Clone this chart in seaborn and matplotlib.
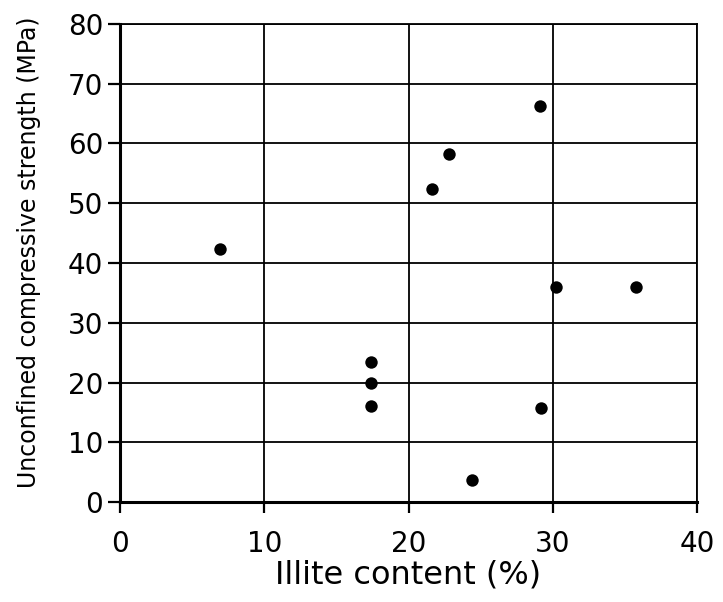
import matplotlib
matplotlib.use("Agg")
import matplotlib.pyplot as plt
import seaborn as sns
import pandas as pd

illite = [6.9, 17.4, 17.4, 17.4, 21.6, 22.8, 24.4, 29.1, 29.2, 30.2, 35.8]
ucs = [42.4, 23.5, 20.0, 16.1, 52.4, 58.3, 3.6, 66.2, 15.8, 36.0, 36.0]
xticks = [0, 10, 20, 30, 40]
yticks = [0, 10, 20, 30, 40, 50, 60, 70, 80]

df = pd.DataFrame({"illite": illite, "ucs": ucs})

sns.set_style("white")
plt.rcParams["font.family"] = ["DejaVu Sans"]
plt.rcParams["text.color"] = "black"
plt.rcParams["axes.labelcolor"] = "black"
plt.rcParams["xtick.color"] = "black"
plt.rcParams["ytick.color"] = "black"

fig = plt.figure(figsize=(7.23, 6.02), dpi=100)
ax = fig.add_axes([120/723, 1-502/602, 577/723, 478/602])

sns.scatterplot(data=df, x="illite", y="ucs", ax=ax, color="black", s=80,
                edgecolor="black", linewidth=0, zorder=3)

ax.set_xlim(0, 40)
ax.set_ylim(0, 80)
ax.set_xticks(xticks)
ax.set_yticks(yticks)
ax.grid(True, color="black", linewidth=1.3)
ax.set_axisbelow(True)
for side in ["top", "right"]:
    ax.spines[side].set_linewidth(1.3)
    ax.spines[side].set_color("black")
for side in ["left", "bottom"]:
    ax.spines[side].set_linewidth(2.2)
    ax.spines[side].set_color("black")
ax.tick_params(axis="x", direction="out", length=8, width=1.6, labelsize=20,
               pad=12, bottom=True, labelcolor="black")
ax.tick_params(axis="y", direction="out", length=9, width=1.6, labelsize=20,
               pad=3, left=True, labelcolor="black")
ax.set_xlabel("Illite content (%)", fontsize=23, labelpad=1)
ax.set_ylabel("Unconfined compressive strength (MPa)", fontsize=17)
ax.yaxis.set_label_coords(-0.137, 0.523)

fig.savefig("out.png", dpi=100)
